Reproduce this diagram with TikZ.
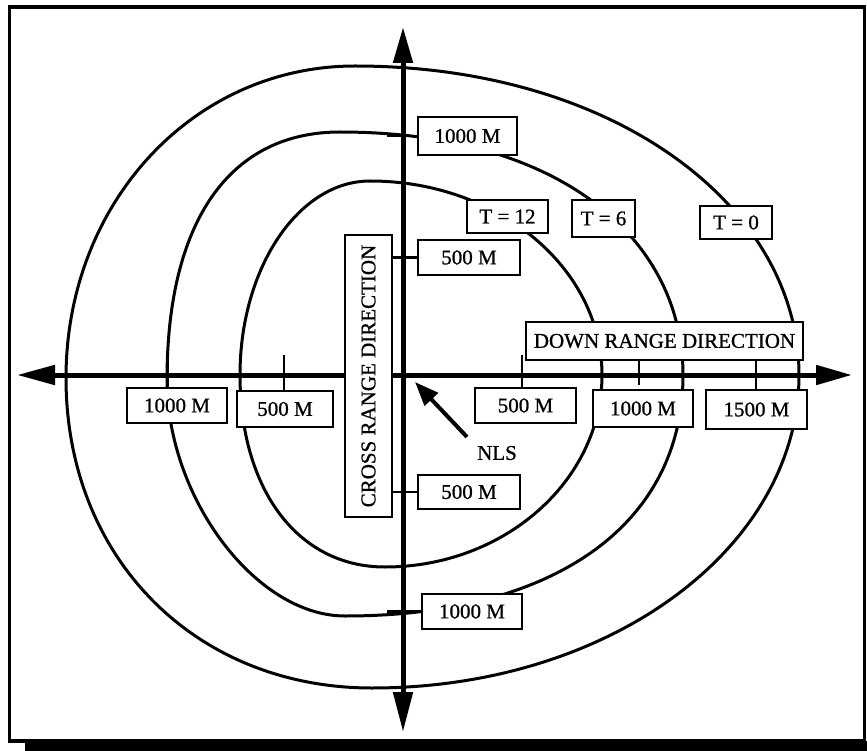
\documentclass[tikz,border=0pt]{standalone}
\usepackage{fontspec}
\setmainfont{Liberation Serif}[FakeBold=0.9]
\usetikzlibrary{arrows.meta,calc}
\begin{document}
\begin{tikzpicture}[x=1pt,y=-1pt,
  lbl/.style={draw,line width=2.6pt,fill=white,inner sep=0pt,font=\fontsize{21}{25}\selectfont},
  wh/.style n args={2}{minimum width=#1pt,minimum height=#2pt},
  curve/.style={line width=3pt,line join=round},
  tickline/.style={line width=2.6pt},
  axisline/.style={line width=5pt},
  plain/.style={inner sep=0pt,font=\fontsize{21}{25}\selectfont}]
\useasboundingbox (0,0) rectangle (867,751);
% frame
\draw[line width=3.5pt] (9.5,7) rectangle (864.5,741);
\fill (25,741) rectangle (867,751);
% T = 0 curve
\draw[curve] (66,378) .. controls (66,203) and (193,66) .. (355,66)
  .. controls (613,66) and (799,205) .. (799,375)
  .. controls (799,547) and (611,688) .. (372,688)
  .. controls (195,688) and (66,558) .. (66,378) -- cycle;
% T = 6 curve
\draw[curve] (167,380) .. controls (167,222) and (229,132) .. (340,132)
  .. controls (563,132) and (683,241) .. (683,375)
  .. controls (683,524) and (555,616) .. (345,616)
  .. controls (256,616) and (167,498) .. (167,380) -- cycle;
% T = 12 curve
\draw[curve] (240,375) .. controls (240,268) and (298.5,181) .. (370,181)
  .. controls (498,181) and (602,268) .. (602,375)
  .. controls (602,481) and (504,567) .. (385,567)
  .. controls (298,567) and (240,490) .. (240,375) -- cycle;
% axes
\coordinate (axT) at (403,27);
\coordinate (axB) at (403,732);
\coordinate (axL) at (17,375);
\coordinate (axR) at (852,375);
\draw[axisline,{Triangle[length=38pt,width=19pt]}-{Triangle[length=36pt,width=19pt]}] (axL) -- (axR);
\draw[axisline,{Triangle[length=36pt,width=19pt]}-{Triangle[length=40pt,width=19pt]}] (axT) -- (axB);
% boxes
\node[lbl,wh={99}{38}] (vt1000) at (467.5,136) {1000 M};
\node[lbl,wh={102}{35}] (vt500) at (469,257.5) {500 M};
\node[lbl,wh={102}{34}] (vb500) at (469,492) {500 M};
\node[lbl,wh={100}{35}] (vb1000) at (472,611.5) {1000 M};
\node[lbl,wh={100}{35}] (hl1000) at (177,405.5) {1000 M};
\node[lbl,wh={96}{36}] (hl500) at (285,409) {500 M};
\node[lbl,wh={101}{35}] (hr500) at (525.5,405.5) {500 M};
\node[lbl,wh={100}{37}] (hr1000) at (643,408.5) {1000 M};
\node[lbl,wh={101}{39}] (hr1500) at (756.5,409.5) {1500 M};
\node[lbl,wh={282}{47},rotate=90] (cross) at (368.5,376) {CROSS RANGE DIRECTION};
\node[lbl,wh={277}{38}] (down) at (664.5,341) {DOWN RANGE DIRECTION};
\node[lbl,wh={81}{33}] (t12) at (507.5,216.5) {T = 12};
\node[lbl,wh={63}{37}] (t6) at (603.5,218.5) {T = 6};
\node[lbl,wh={72}{33}] (t0) at (736,222.5) {T = 0};
% ticks
\draw[tickline] (vt1000.west) -- ++(-30,0);
\draw[tickline] (vt500.west) -- (vt500.west -| cross.south);
\draw[tickline] (vb500.west) -- (vb500.west -| cross.south);
\draw[tickline] (vb1000.west) -- ++(-34,0);
\coordinate (tl1) at (168,362);
\draw[tickline] (tl1) -- (tl1 |- hl1000.north);
\coordinate (tl2) at (284,355);
\draw[tickline] (tl2) -- (tl2 |- hl500.north);
\coordinate (tr1) at (522,355);
\draw[tickline] (tr1) -- (tr1 |- hr500.north);
\coordinate (tr2) at (639,385);
\draw[tickline] (tr2 |- down.south) -- (tr2);
\coordinate (tr3) at (756,390);
\draw[tickline] (tr3 |- down.south) -- (tr3 |- hr1500.north);
% NLS
\node[plain] (nls) at (497,453) {NLS};
\coordinate (nlsS) at (467,437);
\coordinate (nlsT) at (415,382);
\draw[line width=4pt,-{Triangle[length=24pt,width=18pt]}] (nlsS) -- (nlsT);
\end{tikzpicture}
\end{document}
